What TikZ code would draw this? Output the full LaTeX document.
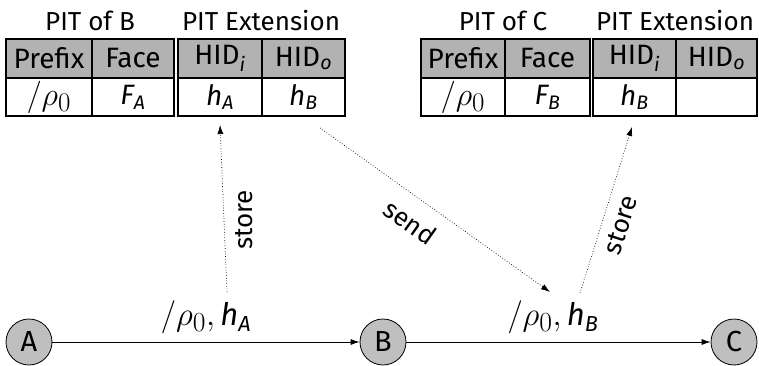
\documentclass[tikz,border=0pt]{standalone}
\usepackage{amsmath}
\usepackage{graphicx}
\usepackage{fontspec}
\setmainfont{Fira Sans}
\usetikzlibrary{arrows.meta}
\newcommand\hvar[2]{\text{\itshape #1}_{\text{\itshape #2}}}
\newcommand\rhoz{\scalebox{1.3}{$/\rho_0$}}
\newcommand\rhozc{\scalebox{1.33}{$/\rho_0,$}}
\begin{document}
\begin{tikzpicture}[x=1pt,y=-1pt,
  cellbase/.style={draw, line width=1.4pt, inner sep=0pt, font=\fontsize{28}{30}\selectfont},
  hdr/.style={cellbase, fill=black!30, minimum height=39pt},
  dat/.style={cellbase, fill=white, minimum height=38pt},
  ttl/.style={font=\fontsize{26}{28}\selectfont},
  state/.style={circle, draw, line width=0.8pt, fill=black!25, minimum size=46pt, inner sep=0pt, font=\fontsize{29}{30}\selectfont},
  msg/.style={font=\fontsize{31}{32}\selectfont},
  flow/.style={-{Latex[length=9pt,width=6pt]}, line width=0.8pt},
  note/.style={dotted, line width=0.7pt, -{Latex[length=9pt,width=6pt]}},
  lbl/.style={font=\fontsize{26}{28}\selectfont}
]
\useasboundingbox (0,0) rectangle (759,366);
% Table of B
\node[ttl] (tb) at (90,21) {PIT of B};
\node[ttl] (te) at (261,21) {PIT Extension};
\node[hdr, minimum width=86pt] (bpre) at (49,58.5) {Prefix};
\node[hdr, minimum width=82pt] (bface) at (133,58.5) {Face};
\node[dat, minimum width=86pt] (bprev) at (49,97) {\rhoz};
\node[dat, minimum width=82pt] (bfacev) at (133,97) {$\hvar{F}{A}$};
\node[hdr, minimum width=84pt] (bhi) at (220,58.5) {HID$_{\text{\itshape i}}$};
\node[hdr, minimum width=83pt] (bho) at (303.5,58.5) {HID$_{\text{\itshape o}}$};
\node[dat, minimum width=84pt] (bhiv) at (220,97) {$\hvar{h}{A}$};
\node[dat, minimum width=83pt] (bhov) at (303.5,97) {$\hvar{h}{B}$};
% Table of C
\node[ttl] (tc) at (503,21) {PIT of C};
\node[ttl] (tce) at (675,21) {PIT Extension};
\node[hdr, minimum width=84pt] (cpre) at (463,58.5) {Prefix};
\node[hdr, minimum width=85pt] (cface) at (547.5,58.5) {Face};
\node[dat, minimum width=84pt] (cprev) at (463,97) {\rhoz};
\node[dat, minimum width=85pt] (cfacev) at (547.5,97) {$\hvar{F}{B}$};
\node[hdr, minimum width=83pt] (chi) at (634.5,58.5) {HID$_{\text{\itshape i}}$};
\node[hdr, minimum width=81pt] (cho) at (716.5,58.5) {HID$_{\text{\itshape o}}$};
\node[dat, minimum width=83pt] (chiv) at (634.5,97) {$\hvar{h}{B}$};
\node[dat, minimum width=81pt] (chov) at (716.5,97) {};
% Nodes
\node[state] (A) at (29,342) {A};
\node[state] (B) at (383,342) {B};
\node[state] (C) at (734,342) {C};
\draw[flow] (A) -- (B);
\draw[flow] (B) -- (C);
\node[msg] (mA) at (206,317) {\rhozc\,$\hvar{h}{A}$};
\node[msg] (mB) at (553,317) {\rhozc\,$\hvar{h}{B}$};
% annotations
\coordinate (s1a) at (227,292);
\coordinate (s1b) at (220,125);
\coordinate (sda) at (320,128);
\coordinate (sdb) at (550,292);
\coordinate (s2a) at (580,293);
\coordinate (s2b) at (632,127);
\draw[note] (s1a) -- (s1b);
\draw[note] (sda) -- (sdb);
\draw[note] (s2a) -- (s2b);
\node[lbl, rotate=90] (st1) at (244,220) {store};
\node[lbl, rotate=-35.5] (snd) at (410,222) {send};
\node[lbl, rotate=72] (st2) at (621,225) {store};
\end{tikzpicture}
\end{document}
